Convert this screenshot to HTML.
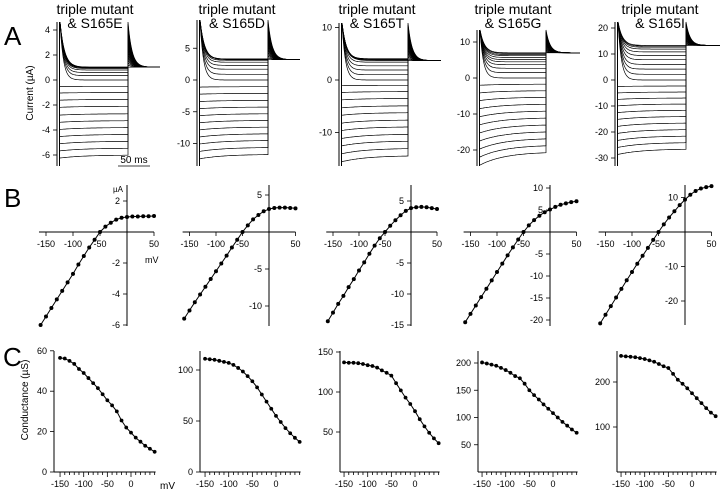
<!DOCTYPE html>
<html><head><meta charset="utf-8">
<style>
html,body{margin:0;padding:0;background:#fff;}
svg{display:block;font-family:"Liberation Sans",Arial,sans-serif;}
</style></head>
<body>
<svg id="fig" width="720" height="491" viewBox="0 0 720 491" xmlns="http://www.w3.org/2000/svg">
<text x="4" y="45" font-size="26">A</text>
<text x="4" y="207" font-size="26">B</text>
<text x="3" y="366" font-size="26">C</text>
<text transform="translate(33,93) rotate(-90)" text-anchor="middle" font-size="10">Current (µA)</text>
<line x1="118" y1="166" x2="150" y2="166" stroke="#000" stroke-width="0.8"/>
<text x="134" y="163" text-anchor="middle" font-size="10">50 ms</text>
<text x="113" y="192" font-size="8">µA</text>
<text x="145" y="263" font-size="9">mV</text>
<text transform="translate(28,400) rotate(-90)" text-anchor="middle" font-size="10">Conductance (µS)</text>
<text x="160" y="489" font-size="10">mV</text>
</svg>
<script>
// ---- data ----
const ivVoltages = [-160,-150,-140,-130,-120,-110,-100,-90,-80,-70,-60,-50,-40,-30,-20,-10,0,10,20,30,40,50];
const ivE = [-6.0,-5.45,-4.9,-4.35,-3.8,-3.25,-2.7,-2.1,-1.55,-1.0,-0.5,0,0.35,0.6,0.8,0.92,0.97,1.0,1.0,1.02,1.02,1.03];
const ivD = [-11.7,-10.6,-9.5,-8.45,-7.4,-6.35,-5.3,-4.25,-3.2,-2.1,-1.05,0,0.9,1.7,2.3,2.8,3.1,3.25,3.3,3.3,3.25,3.2];
const ivT = [-14.4,-13.0,-11.6,-10.3,-8.9,-7.6,-6.2,-4.9,-3.5,-2.2,-1.0,0,1.0,1.9,2.7,3.4,3.85,4.0,4.05,4.0,3.85,3.7];
const ivG = [-20.5,-18.6,-16.7,-14.8,-12.9,-11.0,-9.1,-7.2,-5.3,-3.5,-1.7,0,1.5,2.7,3.7,4.5,5.1,5.7,6.2,6.5,6.8,7.0];
const ivI = [-26.5,-24.0,-21.5,-19.0,-16.5,-14.0,-11.6,-9.2,-6.9,-4.6,-2.3,0,2.2,4.2,6.0,7.8,9.4,10.8,11.9,12.6,13.0,13.3];
const gVoltages = [-150,-140,-130,-120,-110,-100,-90,-80,-70,-60,-50,-40,-30,-20,-10,0,10,20,30,40,50];
const gE = [56.5,56.2,55,53.5,51,49,46.5,44,41.5,38.5,35.5,33,30,25.5,22,19.5,17,15,13,11.5,10];
const gD = [111,110.5,110,109,108,107,105,102,98.5,94,89,83,76,69,62,55,49,43,38,33.5,29.5];
const gT = [137,136.5,136.5,136,135,133.5,132.5,130.5,127,124,120.5,111,102,93,85,76,66,57,49,42,36];
const gG = [201,199,197,195,191,187,182,176,172,162,150,141,133,124,116,108,100,92,85,78,72];
const gI = [258,257,256,255,253,251,248,245,240,235,231,218,205,196,186,175,164,153,142,132,124];
const titles = ["S165E","S165D","S165T","S165G","S165I"];
const aTicks = [[4,2,0,-2,-4,-6],[5,0,-5,-10],[10,0,-10],[10,0,-10,-20],[20,10,0,-10,-20,-30]];
const bYTicks = [[2,-2,-4,-6],[5,-5,-10],[5,-5,-10,-15],[10,5,-5,-10,-15,-20],[10,-10,-20]];
const bXTicks = [-150,-100,-50,50];
const cYTicks = [[0,20,40,60],[0,50,100],[50,100,150],[50,100,150,200],[100,200]];
const cXTicks = [-150,-100,-50,0];
const ivSets = [ivE,ivD,ivT,ivG,ivI];
const gSets = [gE,gD,gT,gG,gI];

const svg = document.getElementById('fig');
const NS = 'http://www.w3.org/2000/svg';
function mk(tag, attrs, parent){
  const e = document.createElementNS(NS, tag);
  for (const k in attrs) e.setAttribute(k, attrs[k]);
  (parent||svg).appendChild(e);
  return e;
}
function txt(x,y,s,anchor,size,parent){
  const t = mk('text',{x:x,y:y,'text-anchor':anchor,'font-size':size},parent);
  t.textContent = s;
  return t;
}

// ---- Row A: current traces ----
const aCfg = [
  {ax:57, y0:80, k:12.5, end:128, tail:160, top:22, tc:95, sag:1.04},
  {ax:197, y0:80, k:6.35, end:268, tail:300, top:20, tc:237, sag:1.06},
  {ax:339, y0:80, k:5.25, end:408, tail:441, top:23, tc:377, sag:1.08},
  {ax:477, y0:78, k:3.6, end:546, tail:580, top:30, tc:513, sag:1.18},
  {ax:615, y0:80, k:2.6, end:686, tail:720, top:22, tc:660, sag:1.08}
];
aCfg.forEach((c,p)=>{
  const g = mk('g',{});
  
  
  const t1 = txt(c.tc,14,'triple mutant','middle',14,g);
  
  
  const t2 = txt(c.tc,28,'& '+titles[p],'middle',14,g);
  
  
  const Y = v => c.y0 - v*c.k;
  const ax = mk('line',{x1:c.ax,y1:c.top,x2:c.ax,y2:166,stroke:'#000','stroke-width':1},g);
  
  
  mk('line',{x1:c.ax+2.5,y1:c.top,x2:c.ax+2.5,y2:166,stroke:'#000','stroke-width':1},g);
  aTicks[p].forEach(v=>{
    mk('line',{x1:c.ax-4,y1:Y(v),x2:c.ax,y2:Y(v),stroke:'#000','stroke-width':0.8},g);
    const t = txt(c.ax-7,Y(v)+3,String(v),'end',9,g);
    
    
  });
  const data = ivSets[p];
  const plateau = data[data.length-1];
  const topV = (c.y0 - c.top)/c.k;
  data.forEach((v,i)=>{
    let pts = [];
    const x0 = c.ax+3;
    for (let x=x0; x<=c.end; x+=1){
      const t = x-x0;
      let val;
      if (v >= 0 || ivVoltages[i] >= -50) {
        val = v + (topV - v)*Math.exp(-t/(2 + i*0.12));
      } else {
        val = v*c.sag + (v - v*c.sag)*(1-Math.exp(-t/25));
      }
      pts.push(x.toFixed(1)+','+Y(val).toFixed(1));
    }
    const peak = plateau + (topV - plateau)*(i/(data.length-1));
    for (let x=c.end; x<=c.tail; x+=1){
      const t = x-c.end;
      const val = plateau + (peak-plateau)*Math.exp(-t/4);
      pts.push(x.toFixed(1)+','+Y(val).toFixed(1));
    }
    const pl = mk('polyline',{points:pts.join(' '),fill:'none',stroke:'#000','stroke-width':0.7},g);
    
    
  });
});

// ---- Row B: I-V curves ----
const bCfg = [
  {ax:127, y0:232, ky:15.5, kx:0.54, top:185, bot:326},
  {ax:269, y0:232, ky:7.4, kx:0.53, top:185, bot:326},
  {ax:411, y0:232, ky:6.2, kx:0.52, top:185, bot:326},
  {ax:550, y0:232, ky:4.4, kx:0.53, top:185, bot:326},
  {ax:685, y0:232, ky:3.45, kx:0.53, top:185, bot:325}
];
bCfg.forEach((c,p)=>{
  const g = mk('g',{});
  
  
  const X = v => c.ax + v*c.kx;
  const Y = v => c.y0 - v*c.ky;
  mk('line',{x1:X(-163),y1:c.y0,x2:X(50),y2:c.y0,stroke:'#000','stroke-width':1},g);
  mk('line',{x1:c.ax,y1:c.top,x2:c.ax,y2:c.bot,stroke:'#000','stroke-width':1},g);
  bXTicks.forEach(v=>{
    mk('line',{x1:X(v),y1:c.y0,x2:X(v),y2:c.y0+4,stroke:'#000','stroke-width':0.8},g);
    const t = txt(X(v),c.y0+15,String(v),'middle',9,g);
    
    
  });
  bYTicks[p].forEach(v=>{
    mk('line',{x1:c.ax-4,y1:Y(v),x2:c.ax,y2:Y(v),stroke:'#000','stroke-width':0.8},g);
    const t = txt(c.ax-7,Y(v)+3,String(v),'end',9,g);
    
    
  });
  const data = ivSets[p];
  const pts = data.map((v,i)=>X(ivVoltages[i]).toFixed(1)+','+Y(v).toFixed(1));
  const pl = mk('polyline',{points:pts.join(' '),fill:'none',stroke:'#000','stroke-width':1},g);
  
  
  data.forEach((v,i)=>{
    const cc = mk('circle',{cx:X(ivVoltages[i]),cy:Y(v),r:2,fill:'#000'},g);
    
    
  });
});

// ---- Row C: conductance ----
const cCfg = [
  {ax:54, x0:131, ky:2.02},
  {ax:200, x0:276, ky:1.02},
  {ax:340, x0:415, ky:0.8},
  {ax:478, x0:553, ky:0.545},
  {ax:617, x0:692, ky:0.45}
];
const cBase = 472;
cCfg.forEach((c,p)=>{
  const g = mk('g',{});
  
  
  const kx = 0.473;
  const X = v => c.x0 + v*kx;
  const Y = v => cBase - v*c.ky;
  mk('line',{x1:c.ax,y1:351,x2:c.ax,y2:cBase,stroke:'#000','stroke-width':1},g);
  mk('line',{x1:c.ax,y1:cBase,x2:X(52),y2:cBase,stroke:'#000','stroke-width':1},g);
  for (let v=-150; v<=50; v+=10){
    const major = cXTicks.indexOf(v) >= 0;
    mk('line',{x1:X(v),y1:cBase,x2:X(v),y2:cBase+(major?5:3),stroke:'#000','stroke-width':0.8},g);
  }
  cXTicks.forEach(v=>{
    const t = txt(X(v),cBase+15,String(v),'middle',9,g);
    
    
  });
  cYTicks[p].forEach(v=>{
    mk('line',{x1:c.ax-4,y1:Y(v),x2:c.ax,y2:Y(v),stroke:'#000','stroke-width':0.8},g);
    const t = txt(c.ax-7,Y(v)+3,String(v),'end',9,g);
    
    
  });
  const data = gSets[p];
  const pts = data.map((v,i)=>X(gVoltages[i]).toFixed(1)+','+Y(v).toFixed(1));
  const pl = mk('polyline',{points:pts.join(' '),fill:'none',stroke:'#000','stroke-width':1},g);
  
  
  data.forEach((v,i)=>{
    const cc = mk('circle',{cx:X(gVoltages[i]),cy:Y(v),r:1.9,fill:'#000'},g);
    
    
  });
});
</script>
</body></html>
